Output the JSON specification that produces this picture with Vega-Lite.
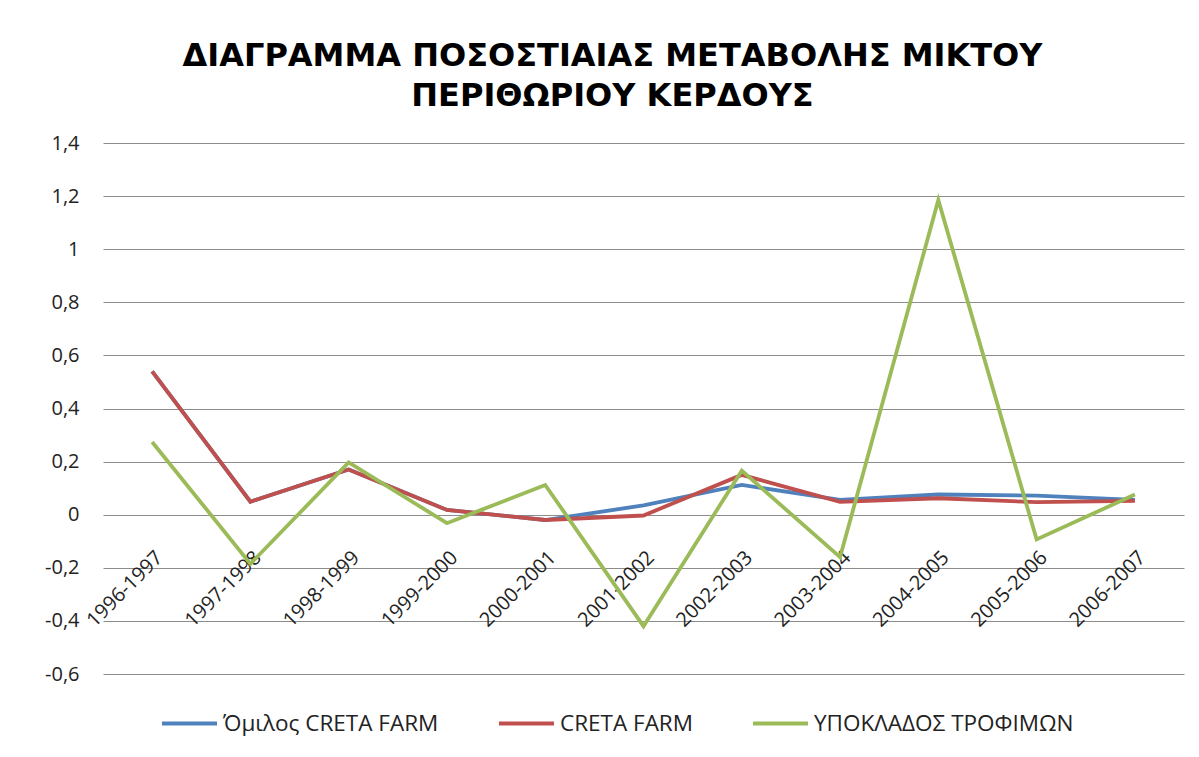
{
  "$schema": "https://vega.github.io/schema/vega-lite/v6.json",
  "width": 1081,
  "height": 531,
  "autosize": "none",
  "padding": {"left": 103, "top": 143, "right": 15, "bottom": 83},
  "background": "white",
  "title": {
    "text": ["ΔΙΑΓΡΑΜΜΑ ΠΟΣΟΣΤΙΑΙΑΣ ΜΕΤΑΒΟΛΗΣ ΜΙΚΤΟΥ", "ΠΕΡΙΘΩΡΙΟΥ ΚΕΡΔΟΥΣ"],
    "font": "DejaVu Sans",
    "fontWeight": "bold",
    "fontSize": 32,
    "lineHeight": 40,
    "color": "#000000",
    "anchor": "middle",
    "frame": "group",
    "dx": -31,
    "offset": 20
  },
  "data": {
    "values": [
      {"period": "1996-1997", "series": "Όμιλος CRETA FARM", "value": 0.54},
      {"period": "1997-1998", "series": "Όμιλος CRETA FARM", "value": 0.049},
      {"period": "1998-1999", "series": "Όμιλος CRETA FARM", "value": 0.17},
      {"period": "1999-2000", "series": "Όμιλος CRETA FARM", "value": 0.018},
      {"period": "2000-2001", "series": "Όμιλος CRETA FARM", "value": -0.02},
      {"period": "2001-2002", "series": "Όμιλος CRETA FARM", "value": 0.035},
      {"period": "2002-2003", "series": "Όμιλος CRETA FARM", "value": 0.112},
      {"period": "2003-2004", "series": "Όμιλος CRETA FARM", "value": 0.056},
      {"period": "2004-2005", "series": "Όμιλος CRETA FARM", "value": 0.076},
      {"period": "2005-2006", "series": "Όμιλος CRETA FARM", "value": 0.072},
      {"period": "2006-2007", "series": "Όμιλος CRETA FARM", "value": 0.056},
      {"period": "1996-1997", "series": "CRETA FARM", "value": 0.54},
      {"period": "1997-1998", "series": "CRETA FARM", "value": 0.049},
      {"period": "1998-1999", "series": "CRETA FARM", "value": 0.17},
      {"period": "1999-2000", "series": "CRETA FARM", "value": 0.018},
      {"period": "2000-2001", "series": "CRETA FARM", "value": -0.02},
      {"period": "2001-2002", "series": "CRETA FARM", "value": -0.003},
      {"period": "2002-2003", "series": "CRETA FARM", "value": 0.15},
      {"period": "2003-2004", "series": "CRETA FARM", "value": 0.048},
      {"period": "2004-2005", "series": "CRETA FARM", "value": 0.062},
      {"period": "2005-2006", "series": "CRETA FARM", "value": 0.047},
      {"period": "2006-2007", "series": "CRETA FARM", "value": 0.052},
      {"period": "1996-1997", "series": "ΥΠΟΚΛΑΔΟΣ ΤΡΟΦΙΜΩΝ", "value": 0.274},
      {"period": "1997-1998", "series": "ΥΠΟΚΛΑΔΟΣ ΤΡΟΦΙΜΩΝ", "value": -0.185},
      {"period": "1998-1999", "series": "ΥΠΟΚΛΑΔΟΣ ΤΡΟΦΙΜΩΝ", "value": 0.197},
      {"period": "1999-2000", "series": "ΥΠΟΚΛΑΔΟΣ ΤΡΟΦΙΜΩΝ", "value": -0.032},
      {"period": "2000-2001", "series": "ΥΠΟΚΛΑΔΟΣ ΤΡΟΦΙΜΩΝ", "value": 0.112},
      {"period": "2001-2002", "series": "ΥΠΟΚΛΑΔΟΣ ΤΡΟΦΙΜΩΝ", "value": -0.42},
      {"period": "2002-2003", "series": "ΥΠΟΚΛΑΔΟΣ ΤΡΟΦΙΜΩΝ", "value": 0.166},
      {"period": "2003-2004", "series": "ΥΠΟΚΛΑΔΟΣ ΤΡΟΦΙΜΩΝ", "value": -0.16},
      {"period": "2004-2005", "series": "ΥΠΟΚΛΑΔΟΣ ΤΡΟΦΙΜΩΝ", "value": 1.185},
      {"period": "2005-2006", "series": "ΥΠΟΚΛΑΔΟΣ ΤΡΟΦΙΜΩΝ", "value": -0.093},
      {"period": "2006-2007", "series": "ΥΠΟΚΛΑΔΟΣ ΤΡΟΦΙΜΩΝ", "value": 0.076}
    ]
  },
  "mark": {"type": "line", "strokeWidth": 3.8, "strokeJoin": "miter"},
  "encoding": {
    "x": {
      "field": "period",
      "type": "ordinal",
      "sort": null,
      "scale": {"type": "point", "padding": 0.5},
      "axis": {
        "title": null,
        "offset": -159,
        "domain": false,
        "ticks": false,
        "grid": false,
        "labelAngle": -45,
        "labelAlign": "right",
        "labelBaseline": "top",
        "labelPadding": 32,
        "labelFont": "Open Sans",
        "labelFontSize": 20,
        "labelColor": "#222222"
      }
    },
    "y": {
      "field": "value",
      "type": "quantitative",
      "scale": {"domain": [-0.6, 1.4], "nice": false, "zero": false},
      "axis": {
        "title": null,
        "values": [-0.6, -0.4, -0.2, 0, 0.2, 0.4, 0.6, 0.8, 1, 1.2, 1.4],
        "labelExpr": "replace(toString(round(datum.value * 10) / 10), '.', ',')",
        "domain": false,
        "ticks": false,
        "labelPadding": 24,
        "labelFont": "Open Sans",
        "labelFontSize": 20,
        "labelColor": "#222222",
        "gridColor": "#8c8c8c",
        "gridWidth": 1.2
      }
    },
    "color": {
      "field": "series",
      "type": "nominal",
      "sort": ["Όμιλος CRETA FARM", "CRETA FARM", "ΥΠΟΚΛΑΔΟΣ ΤΡΟΦΙΜΩΝ"],
      "scale": {
        "domain": ["Όμιλος CRETA FARM", "CRETA FARM", "ΥΠΟΚΛΑΔΟΣ ΤΡΟΦΙΜΩΝ"],
        "range": ["#4f81bd", "#c0504d", "#9bbb59"]
      },
      "legend": {
        "title": null,
        "orient": "none",
        "direction": "horizontal",
        "legendX": 57,
        "legendY": 551,
        "symbolType": "stroke",
        "symbolSize": 3025,
        "symbolStrokeWidth": 4,
        "labelOffset": 4,
        "columnPadding": 52,
        "labelFont": "Open Sans",
        "labelFontSize": 22.5,
        "labelColor": "#222222",
        "labelLimit": 400
      }
    }
  },
  "config": {"view": {"stroke": null}}
}
